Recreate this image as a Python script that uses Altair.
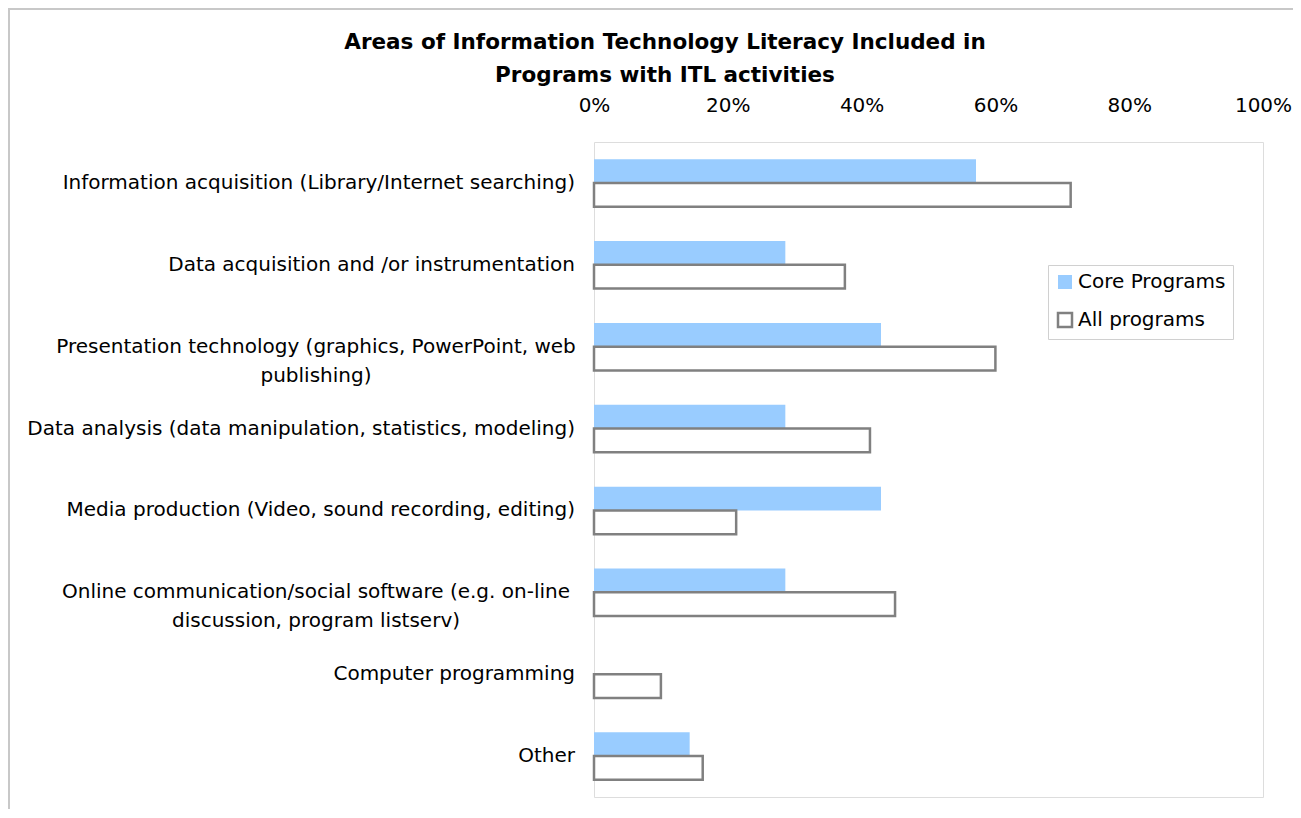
import altair as alt
import pandas as pd

title_lines = ["Areas of Information Technology Literacy Included in",
               "Programs with ITL activities"]
categories = [
    "Information acquisition (Library/Internet searching)",
    "Data acquisition and /or instrumentation",
    "Presentation technology (graphics, PowerPoint, web publishing)",
    "Data analysis (data manipulation, statistics, modeling)",
    "Media production (Video, sound recording, editing)",
    "Online communication/social software (e.g. on-line discussion, program listserv)",
    "Computer programming",
    "Other",
]
label_lines = [
    ["Information acquisition (Library/Internet searching)"],
    ["Data acquisition and /or instrumentation"],
    ["Presentation technology (graphics, PowerPoint, web", "publishing)"],
    ["Data analysis (data manipulation, statistics, modeling)"],
    ["Media production (Video, sound recording, editing)"],
    ["Online communication/social software (e.g. on-line", "discussion, program listserv)"],
    ["Computer programming"],
    ["Other"],
]
series = ["Core Programs", "All programs"]
core_values = [0.571, 0.286, 0.429, 0.286, 0.429, 0.286, 0.0, 0.143]
all_values = [0.7125, 0.375, 0.60, 0.4125, 0.2125, 0.45, 0.10, 0.1625]
tick_values = [0, 0.2, 0.4, 0.6, 0.8, 1.0]

rows = []
for c, cv, av in zip(categories, core_values, all_values):
    rows.append({"category": c, "series": series[0], "value": cv})
    rows.append({"category": c, "series": series[1], "value": av})
df = pd.DataFrame(rows)

lab = pd.DataFrame({"category": categories, "lines": label_lines,
                    "n": [len(l) for l in label_lines]})
ttl = pd.DataFrame({"t": [title_lines]})

FONT = "DejaVu Sans"
FS = 20
W, H = 669, 655

yscale = alt.Scale(domain=categories, paddingInner=0.42, paddingOuter=0.21)

legend = alt.Legend(title=None, orient="none", legendX=454, legendY=123,
                    symbolType="square", symbolSize=196,
                    labelFontSize=FS, labelFont=FONT, labelColor="#000",
                    strokeColor="#D0D0D0", padding=7, rowPadding=14,
                    symbolStrokeWidth=2.5, labelOffset=3)

bars = alt.Chart(df).mark_bar(strokeWidth=2.5).encode(
    y=alt.Y("category:N", sort=categories, scale=yscale, axis=None),
    yOffset=alt.YOffset("series:N", sort=series, scale=alt.Scale(domain=series)),
    x=alt.X("value:Q", scale=alt.Scale(domain=[0, 1]),
            axis=alt.Axis(orient="top", format="%", values=tick_values,
                          grid=False, ticks=False, domain=False, labelPadding=27,
                          labelFlush=False,
                          labelFontSize=FS, labelFont=FONT, labelColor="#000",
                          title=None)),
    fill=alt.Fill("series:N", sort=series,
                  scale=alt.Scale(domain=series, range=["#99CCFF", "#FFFFFF"]),
                  legend=legend),
    stroke=alt.Stroke("series:N", sort=series,
                      scale=alt.Scale(domain=series, range=["rgba(0,0,0,0)", "#808080"]),
                      legend=legend),
)

single = alt.Chart(lab).transform_filter("datum.n == 1").mark_text(
    align="right", baseline="middle", font=FONT, fontSize=FS, color="#000"
).encode(
    y=alt.Y("category:N", sort=categories, scale=yscale, axis=None),
    x=alt.value(-19),
    text="lines",
)
double = alt.Chart(lab).transform_filter("datum.n == 2").mark_text(
    align="center", baseline="middle", font=FONT, fontSize=FS, color="#000", lineHeight=29
).encode(
    y=alt.Y("category:N", sort=categories, scale=yscale, axis=None),
    x=alt.value(-278),
    text="lines",
)

title = alt.Chart(ttl).mark_text(
    align="center", baseline="alphabetic", font=FONT, fontSize=21.5, fontWeight="bold",
    color="#000", lineHeight=33
).encode(x=alt.value(71), y=alt.value(-93), text="t")

frame_left = alt.Chart(ttl).mark_rule(color="#C8C8C8", strokeWidth=2).encode(
    x=alt.value(-585), y=alt.value(-134), y2=alt.value(700))
frame_top = alt.Chart(ttl).mark_rule(color="#C8C8C8", strokeWidth=2).encode(
    y=alt.value(-133), x=alt.value(-586), x2=alt.value(720))

chart = alt.layer(frame_left, frame_top, bars, single, double, title).properties(
    width=W, height=H,
    autosize=alt.AutoSizeParams(type="none"),
    padding={"left": 586, "top": 134, "right": 30, "bottom": 12},
).configure_view(
    stroke="#C0C0C0", strokeWidth=2.5
).configure(background="white")

chart.save("out.html", embed_options={"renderer": "svg", "actions": False})
